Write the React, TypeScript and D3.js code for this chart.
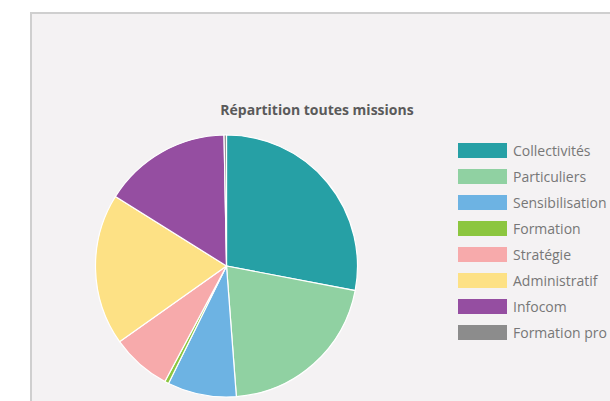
import React from "react";
import * as d3 from "d3";

const categories = ["Collectivités", "Particuliers", "Sensibilisation", "Formation", "Stratégie", "Administratif", "Infocom", "Formation pro"];
const values = [28.0, 20.8, 8.5, 0.5, 7.4, 18.7, 15.8, 0.3];
const colors = ["#26a0a5", "#90d1a2", "#6db3e3", "#8cc63f", "#f7aaab", "#fde185", "#954ea1", "#8c8c8c"];
const title = "Répartition toutes missions";

export default function App() {
  const W = 610, H = 401;
  const cx = 226.5, cy = 266, r = 131;
  const pie = d3.pie<number>().sort(null).value((d) => d);
  const arcs = pie(values);
  const arc = d3.arc<d3.PieArcDatum<number>>().innerRadius(0).outerRadius(r);
  const legendY = d3.scalePoint<string>().domain(categories).range([151, 333]);
  return (
    <svg width={W} height={H} style={{ position: "absolute", left: 0, top: 0 }}>
      <rect x={0} y={0} width={W} height={H} fill="#ffffff" />
      <rect x={31} y={13} width={W} height={H} fill="#f4f2f3" stroke="#cfcfcf" strokeWidth={2} />
      <text x={317} y={115} textAnchor="middle" fontFamily="'Open Sans', sans-serif" fontWeight="bold" fontSize={14} fill="#5a5a5a">{title}</text>
      <g transform={`translate(${cx},${cy})`}>
        {arcs.map((a, i) => (
          <path key={i} d={arc(a) || ""} fill={colors[i]} stroke="#ffffff" strokeWidth={1.2} />
        ))}
      </g>
      {categories.map((c, i) => (
        <g key={c} transform={`translate(0,${legendY(c)})`}>
          <rect x={458} y={-8} width={49} height={15} fill={colors[i]} />
          <text x={513} y={0} dy="0.35em" fontFamily="'Open Sans', sans-serif" fontSize={14} fill="#777">{c}</text>
        </g>
      ))}
    </svg>
  );
}
